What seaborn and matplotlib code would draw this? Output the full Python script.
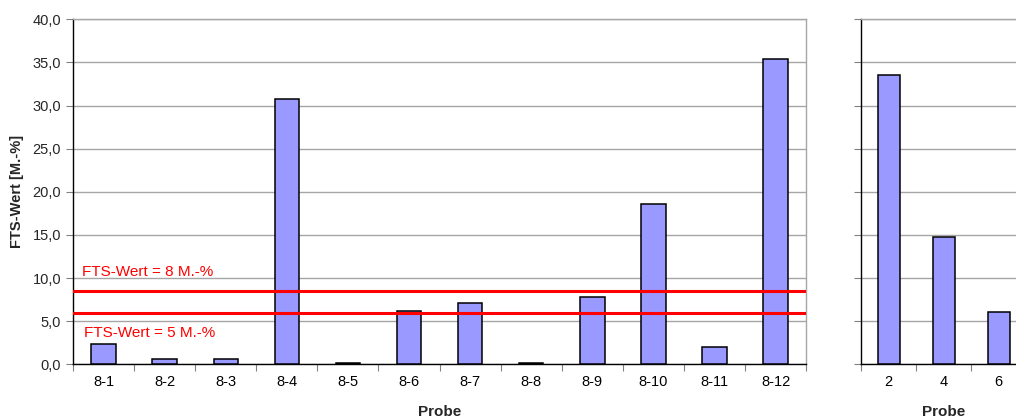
import pandas as pd
import matplotlib.pyplot as plt
import seaborn as sns
from matplotlib.ticker import FixedLocator, FuncFormatter

# FTS values per sample
proben_links = ['8-1', '8-2', '8-3', '8-4', '8-5', '8-6', '8-7', '8-8', '8-9', '8-10', '8-11', '8-12']
fts_links = [2.4, 0.6, 0.6, 30.8, 0.1, 6.2, 7.1, 0.1, 7.8, 18.6, 2.0, 35.4]
proben_rechts = ['2', '4', '6']
fts_rechts = [33.6, 14.8, 6.1]

# limit lines (as drawn) and their labels
grenz_8 = 8.5
grenz_5 = 5.9
label_8 = 'FTS-Wert = 8 M.-%'
label_5 = 'FTS-Wert = 5 M.-%'

df_l = pd.DataFrame({'Probe': proben_links, 'FTS': fts_links})
df_r = pd.DataFrame({'Probe': proben_rechts, 'FTS': fts_rechts})

sns.set_style('white')
plt.rcParams['font.family'] = ['Liberation Sans', 'DejaVu Sans']

fig = plt.figure(figsize=(10.16, 4.19), dpi=100)
ax1 = fig.add_axes([0.0719, 0.1305, 0.7215, 0.8234])
ax2 = fig.add_axes([0.8477, 0.1305, 0.1624, 0.8234])

bar_col = '#9999FF'
for ax, df in [(ax1, df_l), (ax2, df_r)]:
    sns.barplot(x='Probe', y='FTS', data=df, ax=ax, color=bar_col, width=0.4,
                edgecolor='black', linewidth=1.1, saturation=1, zorder=3)
    n = len(df)
    ax.set_xlim(-0.5, n - 0.5)
    ax.set_ylim(0, 40)
    ax.set_yticks(range(0, 41, 5))
    ax.yaxis.grid(True, color='#A6A6A6', linewidth=1.0, zorder=0)
    ax.set_axisbelow(True)
    # category boundary ticks
    ax.xaxis.set_minor_locator(FixedLocator([i - 0.5 for i in range(n + 1)]))
    ax.tick_params(axis='x', which='major', length=0, labelsize=10.5, pad=8, colors='black')
    ax.tick_params(axis='x', which='minor', length=5, width=0.8, color='#808080', direction='out', bottom=True)
    ax.tick_params(axis='y', which='major', length=5, width=0.8, color='#808080', direction='out', left=True, labelsize=10.5)
    for s in ['left', 'bottom']:
        ax.spines[s].set_color('black')
        ax.spines[s].set_linewidth(1.0)
    for s in ['top', 'right']:
        ax.spines[s].set_color('#A6A6A6')
        ax.spines[s].set_linewidth(1.0)
    ax.set_xlabel('Probe', fontsize=11, fontweight='bold', labelpad=11)

ax1.yaxis.set_major_formatter(FuncFormatter(lambda v, p: f'{v:.1f}'.replace('.', ',')))
ax1.set_ylabel('FTS-Wert [M.-%]', fontsize=10.5, fontweight='bold', labelpad=6)
ax2.set_ylabel('')
ax2.set_yticklabels([])
ax2.spines['right'].set_visible(False)

# limit lines
for val in [grenz_8, grenz_5]:
    ax1.axhline(val, color='#FF0000', linewidth=2.2, zorder=4)
ax1.text(-0.35, 9.9, label_8, color='#FF0000', fontsize=11, va='bottom', ha='left')
ax1.text(-0.32, 2.8, label_5, color='#FF0000', fontsize=11, va='bottom', ha='left')

fig.savefig('out.png', dpi=100)
